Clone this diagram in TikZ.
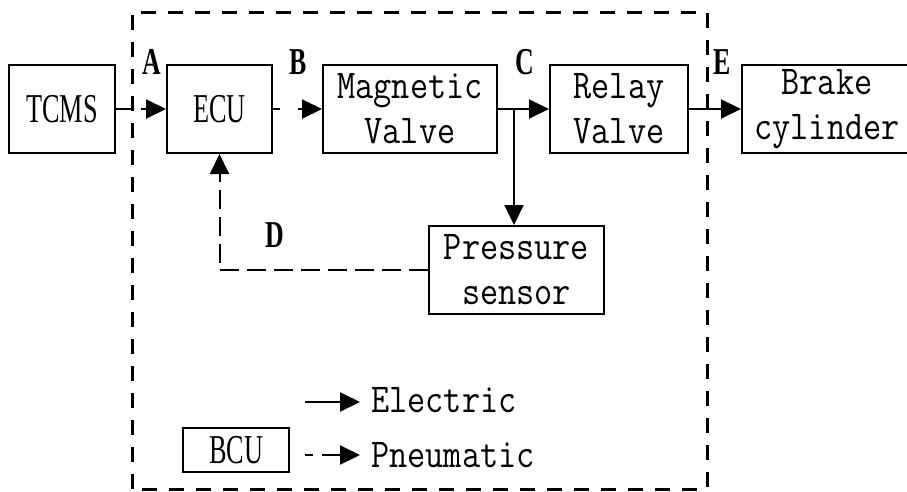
\documentclass[tikz,border=0pt]{standalone}
\usepackage{fontspec}
\usetikzlibrary{arrows.meta}
\newfontfamily\monofnt[FakeStretch=0.86]{Latin Modern Mono}
\newfontfamily\tmsfnt[FakeStretch=0.64]{Liberation Serif}
\newfontfamily\lblfnt[FakeStretch=0.68]{Liberation Serif}
\tikzset{
  blk/.style={draw, line width=2pt, minimum height=88pt, inner sep=0pt, align=center,
              font=\monofnt\fontsize{41}{45}\selectfont},
  tbl/.style={blk, font=\tmsfnt\fontsize{41}{45}\selectfont},
  conn/.style={line width=2pt, -{Triangle[length=20pt,width=19pt]}},
  pdash/.style={dash pattern=on 19pt off 8pt},
  lbl/.style={inner sep=0pt, font=\lblfnt\bfseries\fontsize{38}{40}\selectfont},
  legtxt/.style={inner sep=0pt, anchor=west, font=\monofnt\fontsize{41}{45}\selectfont},
  border/.style={line width=3pt, dash pattern=on 15pt off 12pt}
}
\begin{document}
\begin{tikzpicture}[x=1pt,y=-1pt]
\useasboundingbox (0,0) rectangle (907,491);
% BCU border
\draw[border] (132,489) -- (132,12) -- (707,12) -- (707,489) -- cycle;
% blocks
\node[tbl, minimum width=106pt] (tcms) at (62,109) {TCMS};
\node[tbl, minimum width=105pt] (ecu) at (219.5,109) {ECU};
\node[blk, minimum width=174pt] (mv) at (410,109) {Magnetic\\Valve};
\node[blk, minimum width=138pt] (rv) at (619,109) {Relay\\Valve};
\node[blk, minimum width=170pt] (bc) at (827,109) {Brake\\cylinder};
\node[blk, minimum width=175pt] (ps) at (516.5,270) {Pressure\\sensor};
\node[tbl, minimum width=106pt, minimum height=44pt] (bcu) at (236,450) {BCU};
% connectors
\draw[conn, dash pattern=on 17pt off 8pt] (tcms) -- (ecu);
\draw[conn, dash pattern=on 7pt off 18pt] (ecu) -- (mv);
\draw[conn] (mv) -- (rv);
\coordinate (j) at (514,109);
\draw[conn] (j) -- (j |- ps.north);
\draw[conn] (rv) -- (bc);
\draw[conn, pdash] (ps.west) -| (ecu.south);
% labels
\node[lbl] (la) at (152,62) {A};
\node[lbl] (lb) at (298,62) {B};
\node[lbl] (lc) at (525,62) {C};
\node[lbl] (ld) at (275,235) {D};
\node[lbl] (le) at (722,62) {E};
% legend
\coordinate (e1) at (305,402);
\coordinate (e2) at (360,402);
\draw[conn] (e1) -- (e2);
\node[legtxt] (te) at (371,400) {Electric};
\coordinate (p1) at (305,455);
\coordinate (p2) at (360,455);
\draw[conn, dash pattern=on 8pt off 9pt on 60pt] (p1) -- (p2);
\node[legtxt] (tp) at (371,455) {Pneumatic};
\end{tikzpicture}
\end{document}
